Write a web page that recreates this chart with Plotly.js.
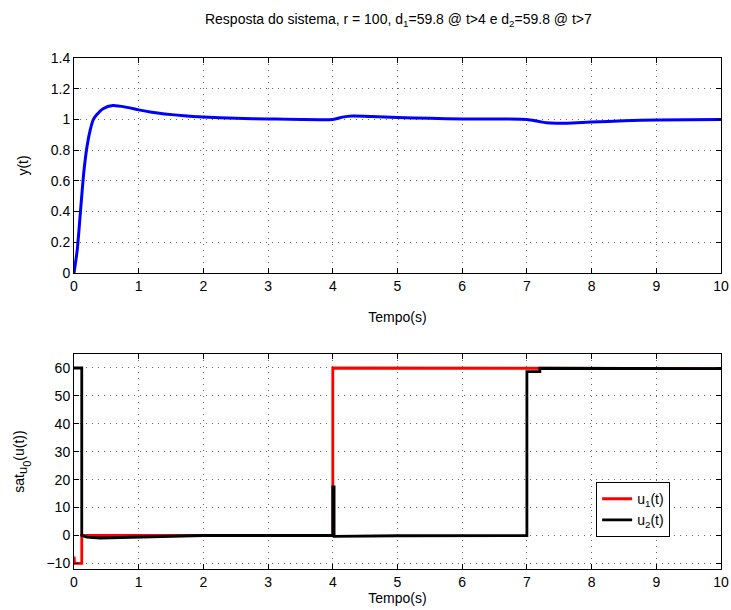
<!DOCTYPE html>
<html>
<head>
<meta charset="utf-8">
<script src="https://cdn.plot.ly/plotly-3.0.1.min.js"></script>
<style>html,body{margin:0;padding:0;background:#fff;}#chart{width:731px;height:610px;}</style>
</head>
<body>
<div id="chart"></div>
<script>
// Top: system response y(t)
const tY = [0, 0.05, 0.1, 0.15, 0.2, 0.25, 0.3, 0.35, 0.45, 0.6, 0.8, 1.0, 1.2, 1.4, 1.7, 2.0, 2.5, 3.0, 4.0, 4.15, 4.3, 4.6, 5.0, 5.5, 6.0, 7.0, 7.15, 7.3, 7.45, 7.7, 8.0, 8.5, 9.0, 10];
const yVals = [0, 0.15, 0.4, 0.65, 0.82, 0.93, 1.0, 1.03, 1.07, 1.09, 1.08, 1.062, 1.047, 1.036, 1.024, 1.016, 1.008, 1.003, 1.0, 1.015, 1.022, 1.019, 1.012, 1.007, 1.003, 1.0, 0.99, 0.978, 0.975, 0.977, 0.983, 0.991, 0.996, 1.0];

// Bottom: saturated control signals
const tU1 = [0, 0.01, 0.12, 0.12, 1.0, 2.0, 4.0, 4.0, 7.0, 10];
const u1 = [-7.5, -10, -10, 0, 0, 0, 0, 60, 60, 59.8];
const tU2 = [0, 0.12, 0.12, 0.2, 0.4, 0.6, 1.0, 1.5, 2.0, 4.0, 4.0, 4.02, 4.02, 5.0, 7.0, 7.0, 7.2, 7.2, 8.5, 10];
const u2 = [60, 60, 0, -0.6, -0.9, -0.8, -0.6, -0.3, 0, 0, 17.4, 17.4, -0.3, -0.1, 0, 58.7, 58.7, 59.9, 59.9, 59.8];

const xTicks = [0, 1, 2, 3, 4, 5, 6, 7, 8, 9, 10];
const yTopTicks = [0, 0.2, 0.4, 0.6, 0.8, 1, 1.2, 1.4];
const yTopLabels = ['0', '0.2', '0.4', '0.6', '0.8', '1', '1.2', '1.4'];
const yBotTicks = [-10, 0, 10, 20, 30, 40, 50, 60];

const font = {family: '"Liberation Sans", Arial, sans-serif', size: 14, color: '#000'};

const traces = [
  {x: tY, y: yVals, type: 'scatter', mode: 'lines', line: {color: '#0000ff', width: 3, shape: 'spline', smoothing: 0.6}, xaxis: 'x', yaxis: 'y', showlegend: false},
  {x: tU1, y: u1, type: 'scatter', mode: 'lines', name: 'u<sub>1</sub>(t)', line: {color: '#ff0000', width: 2.8}, xaxis: 'x2', yaxis: 'y2'},
  {x: tU2, y: u2, type: 'scatter', mode: 'lines', name: 'u<sub>2</sub>(t)', line: {color: '#000000', width: 2.8}, xaxis: 'x2', yaxis: 'y2'}
];

const axBase = {
  showline: true, linecolor: '#000', linewidth: 1, mirror: 'ticks',
  ticks: 'inside', ticklen: 5, tickcolor: '#000', tickwidth: 1,
  showgrid: true, gridcolor: 'rgba(0,0,0,0.6)', griddash: '1px,5px', gridwidth: 1,
  zeroline: false, tickfont: font
};

const layout = {
  width: 731, height: 610,
  paper_bgcolor: '#fff', plot_bgcolor: '#fff',
  font: font,
  margin: {l: 74, r: 10, t: 58, b: 41},
  title: {text: 'Resposta do sistema, r = 100, d<sub>1</sub>=59.8 @ t>4 e d<sub>2</sub>=59.8 @ t>7', font: font, x: 0.545, xanchor: 'center', y: 0.968, yanchor: 'middle', yref: 'container'},
  xaxis: Object.assign({}, axBase, {domain: [0, 1], range: [0, 10], tickvals: xTicks, anchor: 'y', title: {text: 'Tempo(s)', font: font, standoff: 19}}),
  yaxis: Object.assign({}, axBase, {domain: [0.5793, 1], range: [0, 1.4], tickvals: yTopTicks, ticktext: yTopLabels, anchor: 'x', title: {text: 'y(t)', font: font, standoff: 18}}),
  xaxis2: Object.assign({}, axBase, {domain: [0, 1], range: [0, 10], tickvals: xTicks, anchor: 'y2', title: {text: 'Tempo(s)', font: font, standoff: 3}}),
  yaxis2: Object.assign({}, axBase, {domain: [0, 0.4207], range: [-12, 65], tickvals: yBotTicks, anchor: 'x2', title: {text: 'sat<sub><span style="font-size:13px">u</span><span style="font-size:11px;baseline-shift:-4px">0</span></sub>(u(t))', font: font, standoff: 18}}),
  legend: {x: 0.807, y: 0.17, xanchor: 'left', yanchor: 'top', bgcolor: '#fff', bordercolor: '#000', borderwidth: 1, font: {family: font.family, size: 14, color: '#000'}, tracegroupgap: 0}
};

Plotly.newPlot('chart', traces, layout, {displayModeBar: false, staticPlot: true});
</script>
</body>
</html>
